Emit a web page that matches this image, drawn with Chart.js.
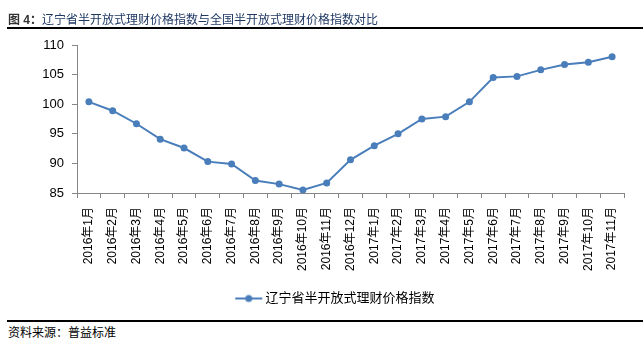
<!DOCTYPE html>
<html>
<head>
<meta charset="utf-8">
<script src="https://cdn.jsdelivr.net/npm/chart.js@4"></script>
<style>
    body { margin: 0; background: #fff; }
    #wrap { position: relative; width: 643px; height: 358px; overflow: hidden; }
    #title {
        position: absolute; left: 8px; top: 10px; font-size: 12px; color: #1f3864;
        font-family: "Liberation Sans", "Noto Sans CJK SC", sans-serif; white-space: nowrap;
    }
    #title b { color: #333; }
    #topLine { position: absolute; left: 7px; right: 0; top: 27px; height: 2px; background: #000; }
    #botLine { position: absolute; left: 7px; right: 0; top: 320px; height: 2px; background: #000; }
    #source {
        position: absolute; left: 8px; top: 323px; font-size: 12px; color: #000;
        font-family: "Liberation Sans", "Noto Sans CJK SC", sans-serif;
    }
    #myChart { position: absolute; left: 0; top: 0; }
</style>
</head>
<body>
<div id="wrap">
    <canvas id="myChart" width="643" height="315"></canvas>
    <div id="title"><b>图 4：</b>辽宁省半开放式理财价格指数与全国半开放式理财价格指数对比</div>
    <div id="topLine"></div>
    <div id="botLine"></div>
    <div id="source">资料来源：普益标准</div>
</div>
<script>
// data
var xValues = ['2016年1月', '2016年2月', '2016年3月', '2016年4月', '2016年5月', '2016年6月',
    '2016年7月', '2016年8月', '2016年9月', '2016年10月', '2016年11月', '2016年12月',
    '2017年1月', '2017年2月', '2017年3月', '2017年4月', '2017年5月', '2017年6月',
    '2017年7月', '2017年8月', '2017年9月', '2017年10月', '2017年11月'];
var yValues = [100.4, 98.9, 96.7, 94.1, 92.6, 90.3, 89.9, 87.1, 86.5, 85.5, 86.7, 90.6,
    93.0, 95.0, 97.5, 97.9, 100.4, 104.5, 104.7, 105.8, 106.7, 107.1, 108.0];
var yTicks = [85, 90, 95, 100, 105, 110];
var seriesName = '辽宁省半开放式理财价格指数';

var lineColor = '#4a7ebb';
var axisColor = '#868686';
var font = '"Liberation Sans", "Noto Sans CJK SC", sans-serif';

// legend marker: short line with a dot (blank space on the left nudges it right)
var marker = document.createElement('canvas');
marker.width = 78;
marker.height = 10;
var mctx = marker.getContext('2d');
mctx.strokeStyle = lineColor;
mctx.lineWidth = 2;
mctx.beginPath();
mctx.moveTo(50, 5);
mctx.lineTo(77, 5);
mctx.stroke();
mctx.fillStyle = lineColor;
mctx.beginPath();
mctx.arc(63.5, 5, 3.5, 0, Math.PI * 2);
mctx.fill();

new Chart('myChart', {
    type: 'line',
    data: {
        labels: xValues,
        datasets: [{
            label: seriesName,
            data: yValues,
            borderColor: lineColor,
            backgroundColor: lineColor,
            borderWidth: 2,
            pointRadius: 3.5,
            pointHoverRadius: 3.5,
            pointBackgroundColor: lineColor,
            pointBorderWidth: 0,
            tension: 0,
            fill: false
        }]
    },
    options: {
        responsive: false,
        animation: false,
        layout: { padding: { left: 0, right: 19, top: 45, bottom: 0 } },
        plugins: {
            legend: {
                display: true,
                position: 'bottom',
                labels: {
                    usePointStyle: true,
                    pointStyle: marker,
                    pointStyleWidth: 69.5,
                    color: '#000',
                    font: { family: font, size: 13 },
                    padding: 10,
                    generateLabels: function (chart) {
                        return [{
                            text: seriesName,
                            pointStyle: marker,
                            fillStyle: lineColor,
                            strokeStyle: lineColor,
                            lineWidth: 0,
                            datasetIndex: 0
                        }];
                    }
                }
            },
            tooltip: { enabled: false }
        },
        scales: {
            x: {
                offset: true,
                afterFit: function (scale) { scale.height = 89; },
                grid: {
                    offset: true,
                    drawOnChartArea: false,
                    drawTicks: true,
                    tickLength: 5,
                    color: axisColor
                },
                border: { color: axisColor, width: 1 },
                ticks: {
                    autoSkip: false,
                    minRotation: 90,
                    maxRotation: 90,
                    padding: 9,
                    color: '#000',
                    font: { family: font, size: 12 }
                }
            },
            y: {
                min: 85,
                max: 110,
                afterFit: function (scale) { scale.width = 77; },
                afterBuildTicks: function (scale) {
                    scale.ticks = yTicks.map(function (v) { return { value: v }; });
                },
                grid: {
                    drawOnChartArea: false,
                    drawTicks: true,
                    tickLength: 5,
                    color: axisColor
                },
                border: { color: axisColor, width: 1 },
                ticks: {
                    padding: 8,
                    color: '#000',
                    font: { family: font, size: 13 }
                }
            }
        }
    }
});
</script>
</body>
</html>
